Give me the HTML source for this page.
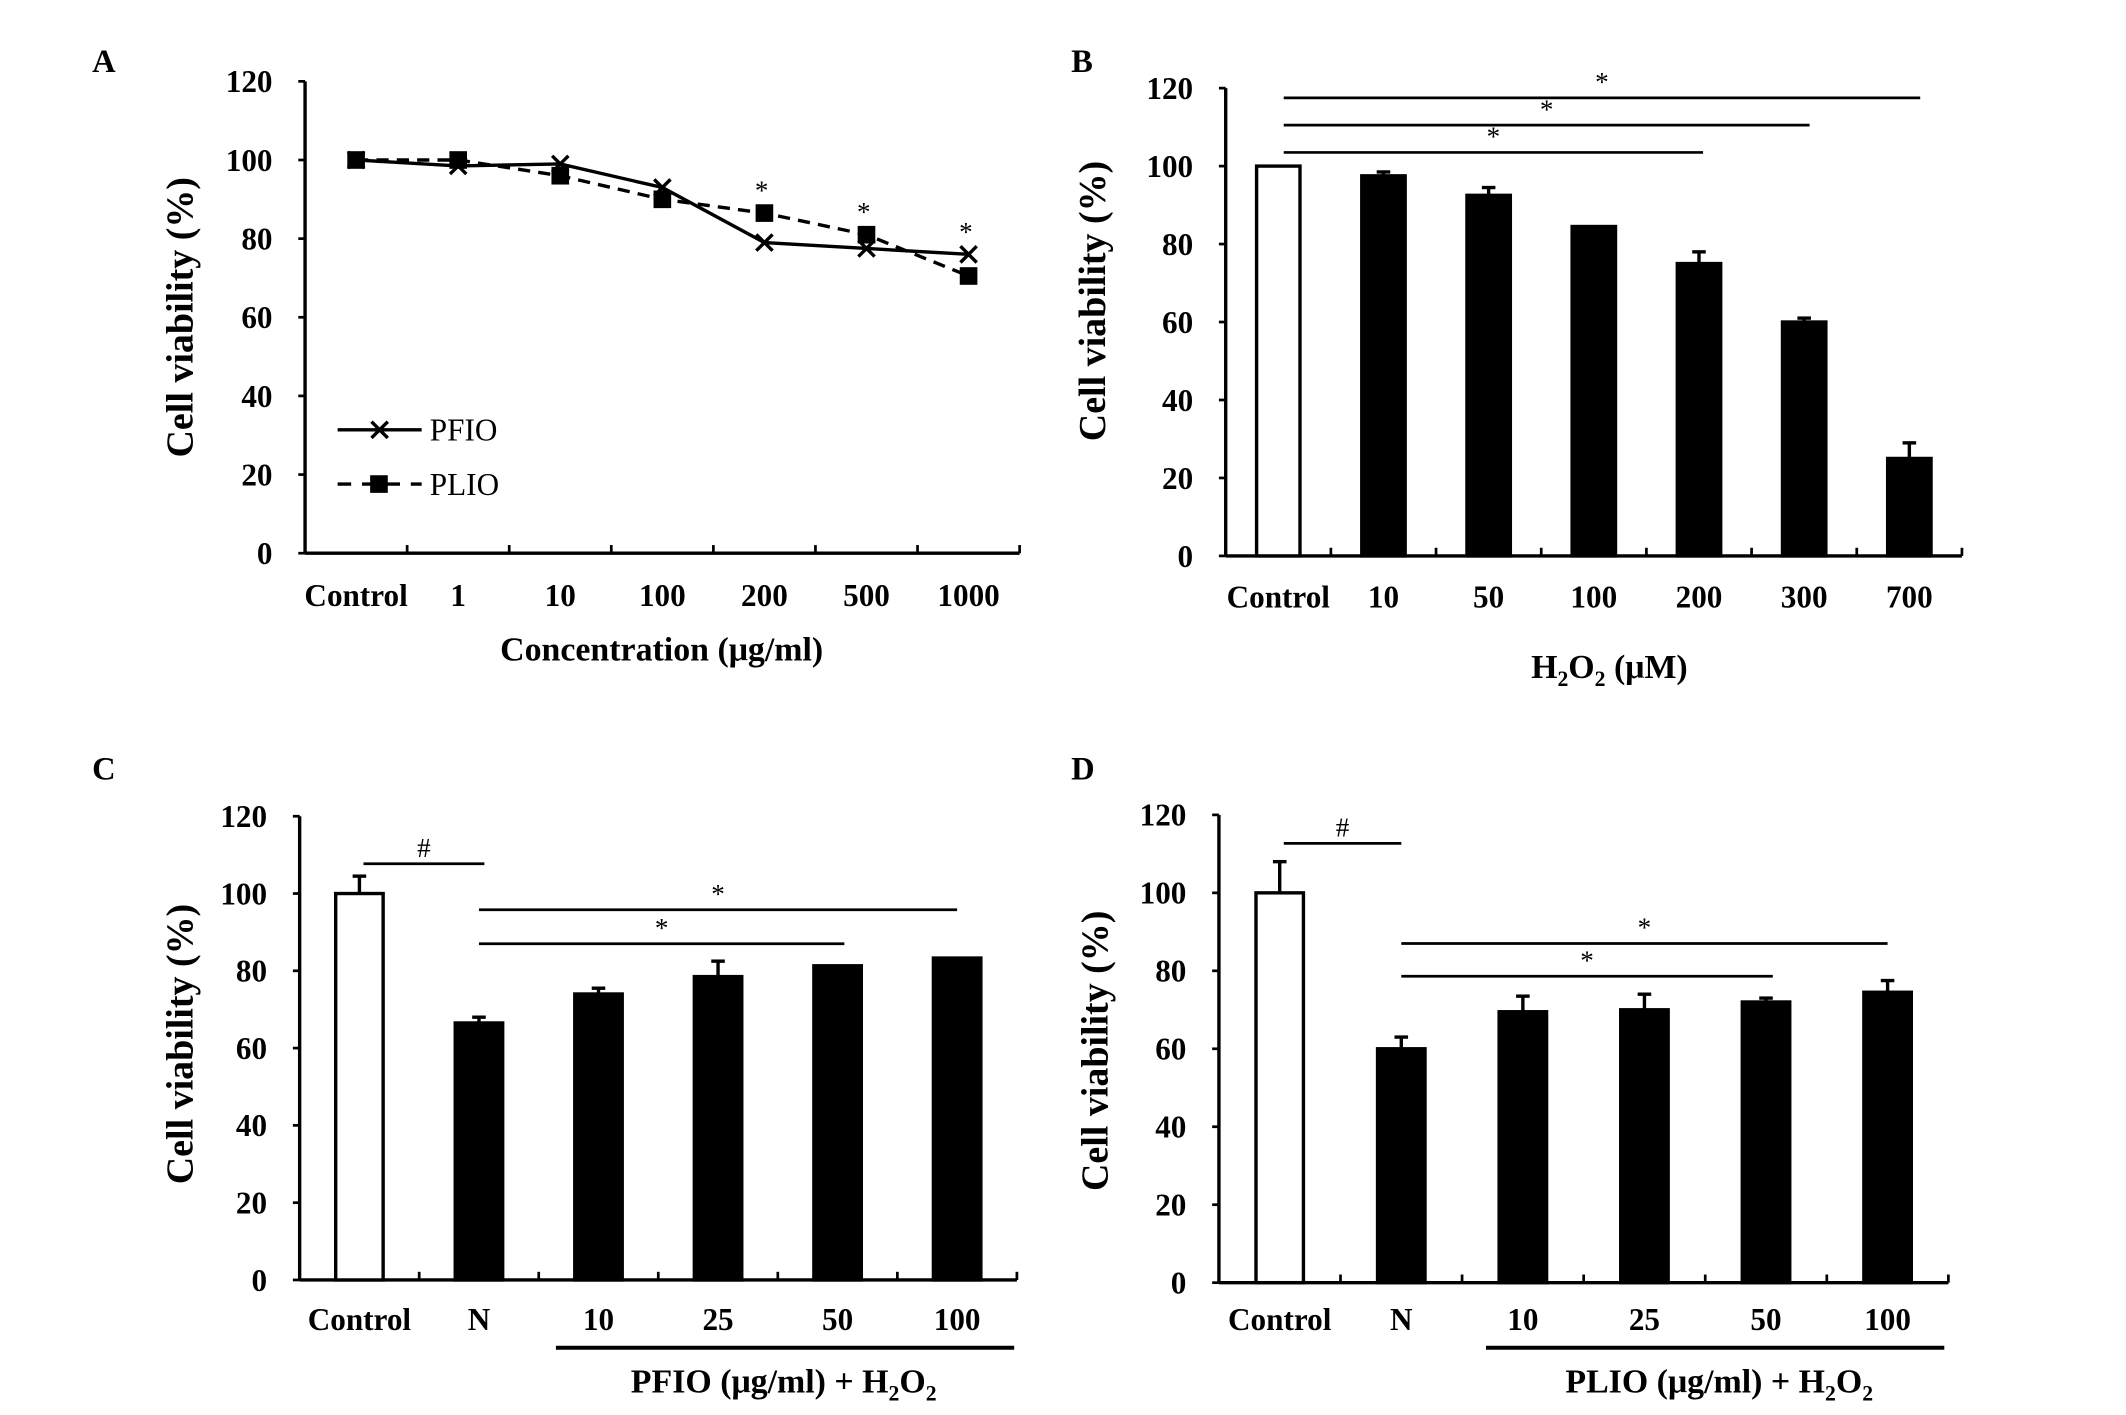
<!DOCTYPE html>
<html><head><meta charset="utf-8"><style>
html,body{margin:0;padding:0;background:#fff;}
svg{display:block;}
text{font-family:"Liberation Serif",serif;fill:#000;}
</style></head><body>
<svg id="fig" xmlns="http://www.w3.org/2000/svg" width="2126" height="1415" viewBox="0 0 1568 1043.6" preserveAspectRatio="none"></svg>
<script>
// Panel A data
const aCats = ["Control","1","10","100","200","500","1000"];
const aPFIO = [100,98.5,99,93,79,77.5,76];
const aPLIO = [100,100,96,90,86.5,81,70.5];
const aStars = [4,5,6];
// Panel B data
const bCats = ["Control","10","50","100","200","300","700"];
const bVals = [100,97.5,92.5,84.5,75,60,25];
const bErr = [0,1,2,0,3,1,4];
// Panel C data
const cCats = ["Control","N","10","25","50","100"];
const cVals = [100,66.5,74,78.5,81.3,83.3];
const cErr = [4.5,1.5,1.5,4,0,0];
// Panel D data
const dCats = ["Control","N","10","25","50","100"];
const dVals = [100,60,69.5,70,72,74.5];
const dErr = [8,3,4,4,1,3];
const yTicks = [0,20,40,60,80,100,120];

const NS="http://www.w3.org/2000/svg";
const svg=document.getElementById('fig');
function el(tag,attrs,parent){const e=document.createElementNS(NS,tag);for(const k in attrs)e.setAttribute(k,attrs[k]);(parent||svg).appendChild(e);return e;}
function txt(x,y,s,size,bold,anchor,parent){const t=el('text',{x:x,y:y,'font-size':size,'text-anchor':anchor||'middle'},parent);if(bold)t.setAttribute('font-weight','bold');t.textContent=s;return t;}

function axes(g,ax){
  const {x0,x1,y0,y1,n}=ax;
  const yl=el('line',{x1:x0,y1:y0,x2:x0,y2:y1,stroke:'#000','stroke-width':2.5},g);
  
  
  const xl=el('line',{x1:x0,y1:y0,x2:x1,y2:y0,stroke:'#000','stroke-width':2.5},g);
  
  
  yTicks.forEach(v=>{const y=ax.ys(v);
    el('line',{x1:x0-5,y1:y,x2:x0,y2:y,stroke:'#000','stroke-width':2},g);
    const t=txt(x0-24,y+8,String(v),23,true,'end',g);
    
    
  });
  const w=(x1-x0)/n;
  for(let i=1;i<=n;i++){el('line',{x1:x0+i*w,y1:y0,x2:x0+i*w,y2:y0-6,stroke:'#000','stroke-width':2},g);}
}
function mkAxis(x0,x1,y0,y1,n){return {x0,x1,y0,y1,n,ys:v=>y0-(y0-y1)*v/120,xs:i=>x0+(x1-x0)/n*(i+0.5)};}
function ytitle(g,x,y){const t=txt(0,0,'Cell viability (%)',28,true,'middle',g);t.setAttribute('transform',`translate(${x},${y}) rotate(-90)`);
  
  }
function xlabels(g,ax,cats,y){cats.forEach((c,i)=>{const t=txt(ax.xs(i),y,c,23,true,'middle',g);
  
  });}
function bars(g,ax,vals,errs,bw){
  vals.forEach((v,i)=>{const cx=ax.xs(i),y=ax.ys(v);
    if(errs[i]>0){const ye=ax.ys(v+errs[i]);
      el('line',{x1:cx,y1:y,x2:cx,y2:ye,stroke:'#000','stroke-width':2.5},g);
      el('line',{x1:cx-5,y1:ye,x2:cx+5,y2:ye,stroke:'#000','stroke-width':2.5},g);}
    const r=el('rect',{x:cx-bw/2,y:y,width:bw,height:ax.y0-y,fill:i===0?'#fff':'#000',stroke:'#000','stroke-width':2.5},g);
    
    
  });
}
function sig(g,ax,i0,i1,v,sym,dx0,dx1){const y=ax.ys(v);const xa=ax.xs(i0)+(dx0||0),xb=ax.xs(i1)+(dx1||0);
  const l=el('line',{x1:xa,y1:y,x2:xb,y2:y,stroke:'#000','stroke-width':2},g);
  
  
  const t=txt((xa+xb)/2,y-5,sym,20,false,'middle',g);
  
  }
function plabel(s,x,y){const t=txt(x,y,s,24,true,'start');}

// ---------- Panel A ----------
const gA=el('g',{});
const axA=mkAxis(225,752,408,60,7);
axes(gA,axA);
ytitle(gA,142,234);
xlabels(gA,axA,aCats,447);
const at=txt(488,487,'Concentration (μg/ml)',25,true,'middle',gA);
const pf=el('polyline',{points:aPFIO.map((v,i)=>axA.xs(i)+','+axA.ys(v)).join(' '),fill:'none',stroke:'#000','stroke-width':2.5},gA);

const pl=el('polyline',{points:aPLIO.map((v,i)=>axA.xs(i)+','+axA.ys(v)).join(' '),fill:'none',stroke:'#000','stroke-width':2.5,'stroke-dasharray':'9,6'},gA);

function xmark(x,y,g){const s=6;el('path',{d:`M${x-s},${y-s}L${x+s},${y+s}M${x-s},${y+s}L${x+s},${y-s}`,stroke:'#000','stroke-width':2.5},g);}
aPLIO.forEach((v,i)=>{const r=el('rect',{x:axA.xs(i)-6.5,y:axA.ys(v)-6.5,width:13,height:13,fill:'#000'},gA);});
aPFIO.forEach((v,i)=>xmark(axA.xs(i),axA.ys(v),gA));
aStars.forEach(i=>{const t=txt(axA.xs(i)-2,axA.ys(Math.max(aPFIO[i],aPLIO[i]))-10,'*',20,false,'middle',gA);});
// legend
const lg=el('g',{},gA);
el('line',{x1:249,y1:317,x2:311,y2:317,stroke:'#000','stroke-width':2.5},lg);xmark(280,317,lg);
txt(317,325,'PFIO',23,false,'start',lg);
el('line',{x1:249,y1:357,x2:311,y2:357,stroke:'#000','stroke-width':2.5,'stroke-dasharray':'10,8'},lg);
el('rect',{x:273,y:350.5,width:13,height:13,fill:'#000'},lg);
txt(317,365,'PLIO',23,false,'start',lg);
plabel('A',68,53);

// ---------- Panel B ----------
const gB=el('g',{});
const axB=mkAxis(904,1447,410,65,7);
axes(gB,axB);ytitle(gB,815,222);
xlabels(gB,axB,bCats,448);
bars(gB,axB,bVals,bErr,32);
sig(gB,axB,0,4,103.5,'*',4,3);
sig(gB,axB,0,5,110.5,'*',4,4);
sig(gB,axB,0,6,117.5,'*',4,8);
const bt=txt(1187,500,'',25,true,'middle',gB);
bt.innerHTML='H<tspan font-size="16" dy="6">2</tspan><tspan dy="-6">O</tspan><tspan font-size="16" dy="6">2</tspan><tspan dy="-6"> (μM)</tspan>';
plabel('B',790,53);

// ---------- Panels C, D ----------
function panelCD(name,ax,cats,vals,errs,hashV,s1,s2,ul,lbl,lblX,ytx,yty,hashEnd){
  const g=el('g',{});
  axes(g,ax);ytitle(g,ytx,yty);xlabels(g,ax,cats,981);
  bars(g,ax,vals,errs,35);
  sig(g,ax,0,1,hashV,'#',3,hashEnd);
  sig(g,ax,1,5,s1,'*',0,0);
  sig(g,ax,1,4,s2,'*',0,5);
  const u=el('line',{x1:ul[0],y1:994,x2:ul[1],y2:994,stroke:'#000','stroke-width':3},g);
  
  const t=txt(lblX,1027,'',25,true,'middle',g);
  t.innerHTML=lbl+' (μg/ml) + H<tspan font-size="16" dy="6">2</tspan><tspan dy="-6">O</tspan><tspan font-size="16" dy="6">2</tspan>';
}
const axC=mkAxis(221,750,944,602,6);
panelCD('panel-c-bar-chart',axC,cCats,cVals,cErr,107.7,95.8,87,[410,748],'PFIO',578,142,770,4);
plabel('C',68,575);
const axD=mkAxis(899,1437,946,601,6);
panelCD('panel-d-bar-chart',axD,dCats,dVals,dErr,112.7,87,78.6,[1096,1434],'PLIO',1268,817,775,0);
plabel('D',790,575);
</script>
</body></html>
